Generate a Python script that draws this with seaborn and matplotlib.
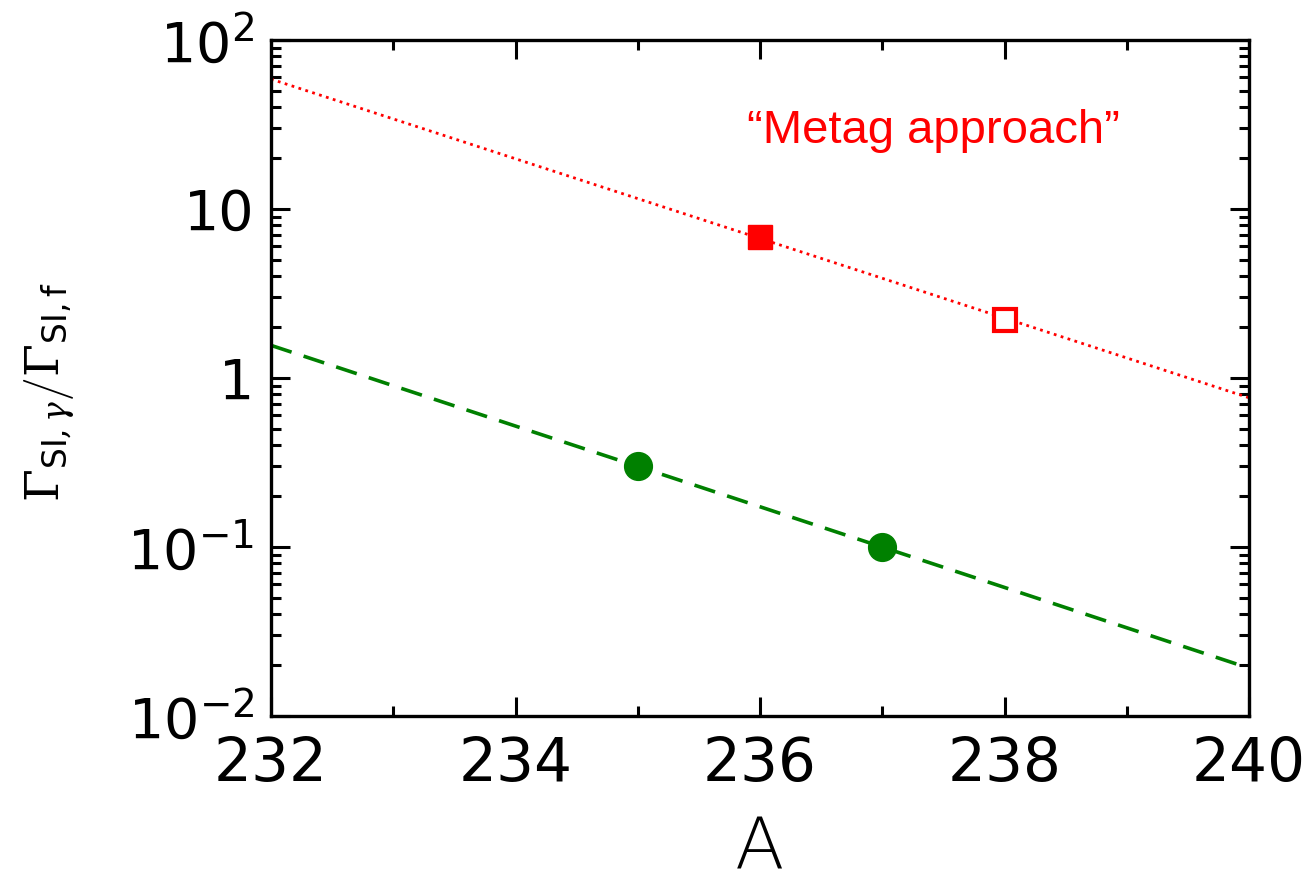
import numpy as np
import pandas as pd
import matplotlib
matplotlib.use("Agg")
import matplotlib.pyplot as plt
import seaborn as sns
from matplotlib.ticker import FixedLocator, LogLocator, NullFormatter, MultipleLocator

# ---- data ----
fit_A = [232, 240]
metag_fit = [58.7, 0.764]
green_fit = [1.56, 0.0192]
metag_filled_A = [236]
metag_filled_val = [6.8]
metag_open_A = [238]
metag_open_val = [2.2]
green_A = [235, 237]
green_val = [0.30, 0.10]
ytick_vals = [1e-2, 1e-1, 1, 10, 100]
ytick_labels = [r"$10^{-2}$", r"$10^{-1}$", "1", "10", r"$10^{2}$"]
xtick_vals = [232, 234, 236, 238, 240]

sns.set_theme(style="ticks")
plt.rcParams['font.family'] = ['DejaVu Sans']
plt.rcParams['mathtext.fontset'] = 'dejavusans'
plt.rcParams['mathtext.rm'] = 'DejaVu Serif'
plt.rcParams['mathtext.it'] = 'DejaVu Serif:italic'
plt.rcParams['mathtext.sf'] = 'DejaVu Sans'
for k in ['text.color', 'axes.labelcolor', 'xtick.color', 'ytick.color', 'axes.edgecolor']:
    plt.rcParams[k] = 'black'

fig = plt.figure(figsize=(13.12, 8.88), dpi=100)
ax = fig.add_axes([271/1312, 1-716/888, (1249-271)/1312, (716-40)/888])

df_red = pd.DataFrame({"A": fit_A, "v": metag_fit})
df_green = pd.DataFrame({"A": fit_A, "v": green_fit})
sns.lineplot(data=df_red, x="A", y="v", ax=ax, color="red", lw=2.0,
             linestyle=(0, (1, 1.6)))
sns.lineplot(data=df_green, x="A", y="v", ax=ax, color="green", lw=2.6,
             linestyle=(0, (6, 3.5)))

ax.plot(metag_filled_A, metag_filled_val, "s", color="red", ms=17, mec="red", zorder=5)
ax.plot(metag_open_A, metag_open_val, "s", mfc="white", mec="red", mew=3, ms=15.5, zorder=5)
ax.plot(green_A, green_val, "o", color="green", ms=20, mec="green", zorder=5)

ax.set_yscale("log")
ax.set_xlim(232, 240)
ax.set_ylim(1e-2, 1e2)
ax.xaxis.set_major_locator(FixedLocator(xtick_vals))
ax.xaxis.set_minor_locator(MultipleLocator(1))
ax.set_xticklabels([str(v) for v in xtick_vals])
ax.yaxis.set_major_locator(FixedLocator(ytick_vals))
ax.set_yticklabels(ytick_labels)
ax.yaxis.set_minor_locator(LogLocator(base=10, subs=np.arange(2, 10)))
ax.yaxis.set_minor_formatter(NullFormatter())

for s in ax.spines.values():
    s.set_linewidth(2.4)
    s.set_color("black")
ax.tick_params(which="both", direction="in", top=True, right=True, width=2.2, color="black")
ax.tick_params(which="major", length=14)
ax.tick_params(which="minor", length=7)
ax.tick_params(axis="x", which="major", labelsize=43, pad=14)
ax.tick_params(axis="y", which="major", labelsize=40, pad=12)

ax.set_xlabel("")
ax.set_ylabel("")
ax.text(0.5, -0.197, "A", transform=ax.transAxes, fontsize=52, fontweight="light",
        ha="center", va="center")
ax.text(-0.226, 0.48, r"$\left.\Gamma_{\mathsf{SI},\gamma}\right/\Gamma_{\mathsf{SI,f}}$",
        transform=ax.transAxes, fontsize=34, rotation=90, ha="center", va="center",
        math_fontfamily="custom")

ax.text(0.677, 0.848, "\u201cMetag approach\u201d", transform=ax.transAxes, color="red",
        fontsize=34, ha="center", va="baseline", family=["Liberation Sans"])

fig.savefig("out.png", dpi=100)
